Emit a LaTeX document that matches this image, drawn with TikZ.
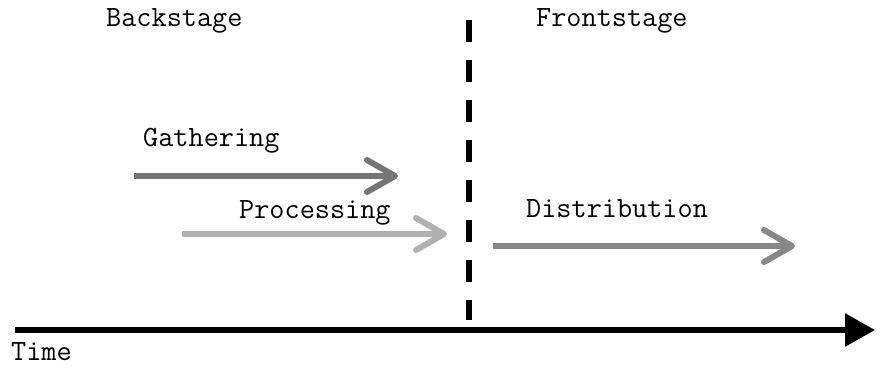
\documentclass[tikz,border=0pt]{standalone}
\usepackage{fontspec}
\usetikzlibrary{arrows.meta}
\definecolor{gatherGray}{gray}{0.46}
\definecolor{processGray}{gray}{0.69}
\definecolor{distGray}{gray}{0.53}

\begin{document}
\begin{tikzpicture}[x=1pt,y=-1pt,
    label/.style={anchor=base west, inner sep=0pt, font=\ttfamily\fontsize{29.4}{34}\selectfont},
    stage/.style={line width=6pt, -{Straight Barb[length=28pt, width=32pt, line cap=round, line join=round]}}]
                \useasboundingbox (0,0) rectangle (880,367);

                % stage names
                \node[label] (back)  at (106,26)  {Backstage};
                \node[label] (front) at (536,26)  {Frontstage};

                % border between the two stages
                \coordinate (top)    at (469,20);
                \coordinate (bottom) at (469,320);
                \draw[black, line width=6pt, dash pattern=on 22pt off 18pt] (top) -- (bottom);

                % activities
                \node[label] (gather) at (143,146) {Gathering};
                \coordinate (g0) at (134,176);
                \coordinate (g1) at (398,176);
                \draw[stage, gatherGray] (g0) -- (g1);

                \node[label] (proc) at (239,218) {Processing};
                \coordinate (p0) at (182,234);
                \coordinate (p1) at (447,234);
                \draw[stage, processGray] (p0) -- (p1);

                \node[label] (dist) at (526,217) {Distribution};
                \coordinate (d0) at (493,246);
                \coordinate (d1) at (795,246);
                \draw[stage, distGray] (d0) -- (d1);

                % time axis
                \node[label] (time) at (11,360) {Time};
                \coordinate (t0) at (15,330);
                \coordinate (t1) at (875,330);
                \draw[black, line width=6pt, -{Triangle[length=30pt, width=32pt]}] (t0) -- (t1);
            \end{tikzpicture}
\end{document}
